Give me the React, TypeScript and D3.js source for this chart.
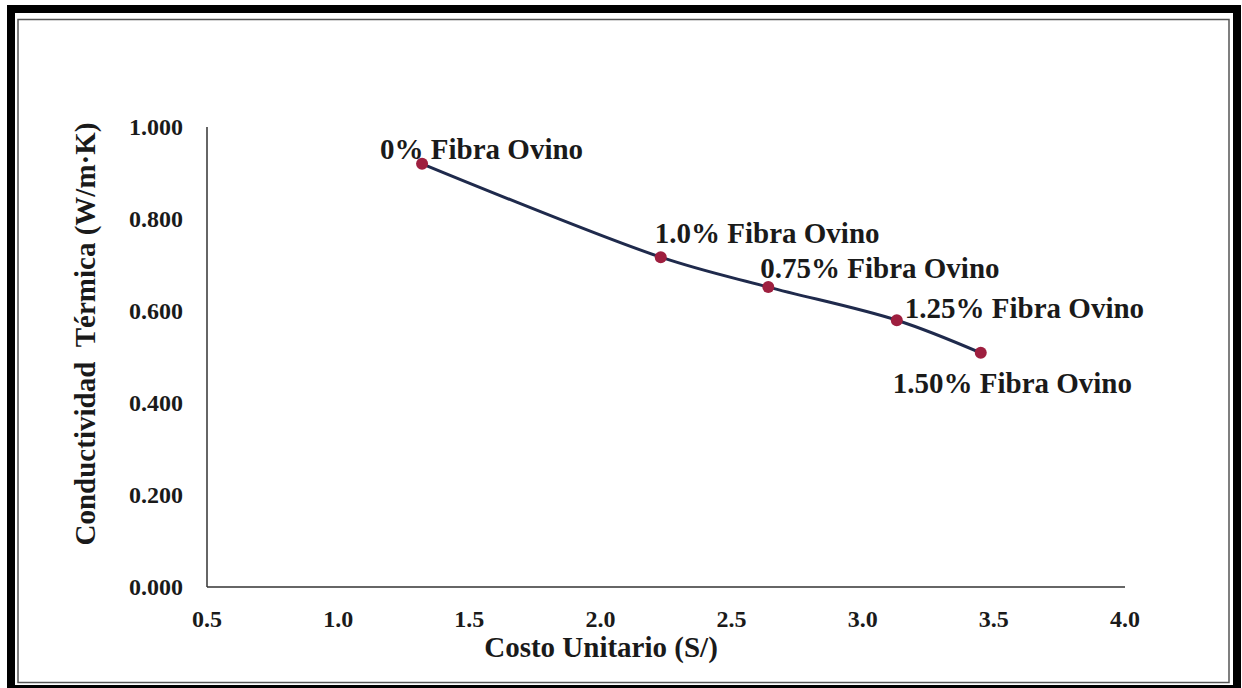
import React from "react";
import * as d3 from "d3";

// ---- data ----
const costs = [1.32, 2.23, 2.64, 3.13, 3.45];
const conductivity = [0.92, 0.717, 0.652, 0.58, 0.509];
const pointLabels = [
  "0% Fibra Ovino",
  "1.0% Fibra Ovino",
  "0.75% Fibra Ovino",
  "1.25% Fibra Ovino",
  "1.50% Fibra Ovino",
];
const xTicks = [0.5, 1.0, 1.5, 2.0, 2.5, 3.0, 3.5, 4.0];
const yTicks = [0, 0.2, 0.4, 0.6, 0.8, 1.0];
const xTitle = "Costo Unitario (S/)";
const yTitle = "Conductividad\u00a0\u00a0Térmica (W/m·K)";

// label placement (offset from point, px)
const labelOffsets: [number, number][] = [
  [-42, -5],
  [-6, -14],
  [-8, -9],
  [8, -2],
  [-88, 40],
];

const W = 1242;
const H = 688;
const FONT = "'Liberation Serif', 'Times New Roman', serif";

export default function App() {
  const x = d3.scaleLinear().domain([0.5, 4.0]).range([207, 1125]);
  const y = d3.scaleLinear().domain([0, 1]).range([587, 127]);
  const pts: [number, number][] = costs.map((c, i) => [x(c), y(conductivity[i])]);
  const line = d3
    .line<[number, number]>()
    .x((d) => d[0])
    .y((d) => d[1])
    .curve(d3.curveCatmullRom.alpha(0.5));

  return (
    <svg
      width={W}
      height={H}
      style={{ position: "absolute", left: 0, top: 0, background: "#fff" }}
    >
      {/* frame */}
      <rect x={7} y={5} width={1234} height={683} fill="#000" />
      <rect x={15} y={13} width={1218} height={672} fill="#fff" />
      <rect x={18} y={19.5} width={1211} height={663} fill="none" stroke="#555" strokeWidth={1.5} />

      {/* axes */}
      <line x1={x(0.5)} x2={x(0.5)} y1={y(1)} y2={y(0)} stroke="#333" strokeWidth={1.5} />
      <line x1={x(0.5)} x2={x(4)} y1={y(0)} y2={y(0)} stroke="#333" strokeWidth={1.5} />

      {/* y ticks */}
      {yTicks.map((t) => (
        <text
          key={"y" + t}
          x={183}
          y={y(t)}
          dy="0.33em"
          textAnchor="end"
          fontFamily={FONT}
          fontWeight="bold"
          fontSize={24}
          fill="#1a1a1a"
        >
          {d3.format(".3f")(t)}
        </text>
      ))}

      {/* x ticks */}
      {xTicks.map((t) => (
        <text
          key={"x" + t}
          x={x(t)}
          y={627}
          textAnchor="middle"
          fontFamily={FONT}
          fontWeight="bold"
          fontSize={24}
          fill="#1a1a1a"
        >
          {d3.format(".1f")(t)}
        </text>
      ))}

      {/* axis titles */}
      <text
        x={601}
        y={657}
        textAnchor="middle"
        fontFamily={FONT}
        fontWeight="bold"
        fontSize={29}
        fill="#1a1a1a"
      >
        {xTitle}
      </text>
      <text
        transform={`translate(95,334) rotate(-90)`}
        textAnchor="middle"
        fontFamily={FONT}
        fontWeight="bold"
        fontSize={29}
        fill="#1a1a1a"
      >
        {yTitle}
      </text>

      {/* series */}
      <path d={line(pts) || ""} fill="none" stroke="#1f2a4c" strokeWidth={3} />
      {pts.map((p, i) => (
        <circle key={"p" + i} cx={p[0]} cy={p[1]} r={6} fill="#9e1f3f" />
      ))}

      {/* point labels */}
      {pts.map((p, i) => (
        <text
          key={"l" + i}
          x={p[0] + labelOffsets[i][0]}
          y={p[1] + labelOffsets[i][1]}
          fontFamily={FONT}
          fontWeight="bold"
          fontSize={29}
          fill="#1a1a1a"
        >
          {pointLabels[i]}
        </text>
      ))}
    </svg>
  );
}
